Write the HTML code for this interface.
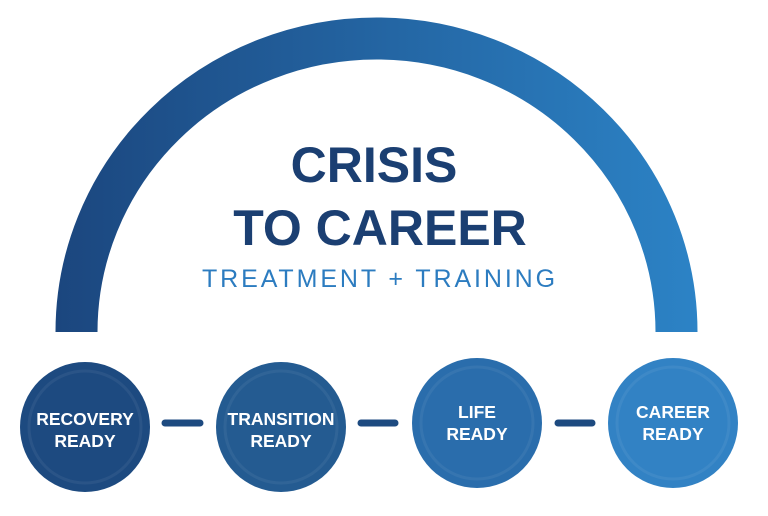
<!DOCTYPE html>
<html><head><meta charset="utf-8"><style>
html,body{margin:0;padding:0;background:#fff;}
svg{display:block}
</style></head><body>
<svg width="768" height="516" viewBox="0 0 768 516" xmlns="http://www.w3.org/2000/svg">
<defs>
<linearGradient id="g" x1="55" y1="0" x2="698" y2="0" gradientUnits="userSpaceOnUse">
<stop offset="0" stop-color="#1b467e"/><stop offset="1" stop-color="#2c83c6"/>
</linearGradient>
</defs>
<path d="M76.5 332 A300 293.5 0 0 1 676.5 332" fill="none" stroke="url(#g)" stroke-width="42"/>
<g font-family="Liberation Sans, sans-serif" font-weight="bold" text-anchor="middle">
<text x="374" y="182" font-size="50" fill="#1b3f72">CRISIS</text>
<text x="380" y="245" font-size="50" fill="#1b3f72">TO CAREER</text>
<text x="380" y="287" font-size="25" font-weight="normal" fill="#2c7cc0" letter-spacing="2.9">TREATMENT + TRAINING</text>
</g>
<g stroke-linecap="round" stroke-width="7">
<line x1="165" y1="423" x2="200" y2="423" stroke="#1d4a80"/>
<line x1="361" y1="423" x2="395" y2="423" stroke="#1d4a80"/>
<line x1="558" y1="423" x2="592" y2="423" stroke="#1d4a80"/>
</g>
<circle cx="85" cy="427" r="65" fill="#1d4a80"/>
<circle cx="281" cy="427" r="65" fill="#245b91"/>
<circle cx="477" cy="423" r="65" fill="#2a6dac"/>
<circle cx="673" cy="423" r="65" fill="#3282c4"/>
<g fill="none" stroke="#fff" stroke-opacity="0.06" stroke-width="3">
<circle cx="85" cy="427" r="56"/><circle cx="281" cy="427" r="56"/>
<circle cx="477" cy="423" r="56"/><circle cx="673" cy="423" r="56"/>
</g>
<g font-family="Liberation Sans, sans-serif" font-weight="bold" font-size="17.5" fill="#fff" text-anchor="middle">
<text x="85" y="425">RECOVERY</text><text x="85" y="447">READY</text>
<text x="281" y="425">TRANSITION</text><text x="281" y="447">READY</text>
<text x="477" y="418">LIFE</text><text x="477" y="440">READY</text>
<text x="673" y="418">CAREER</text><text x="673" y="440">READY</text>
</g>
</svg>
</body></html>
